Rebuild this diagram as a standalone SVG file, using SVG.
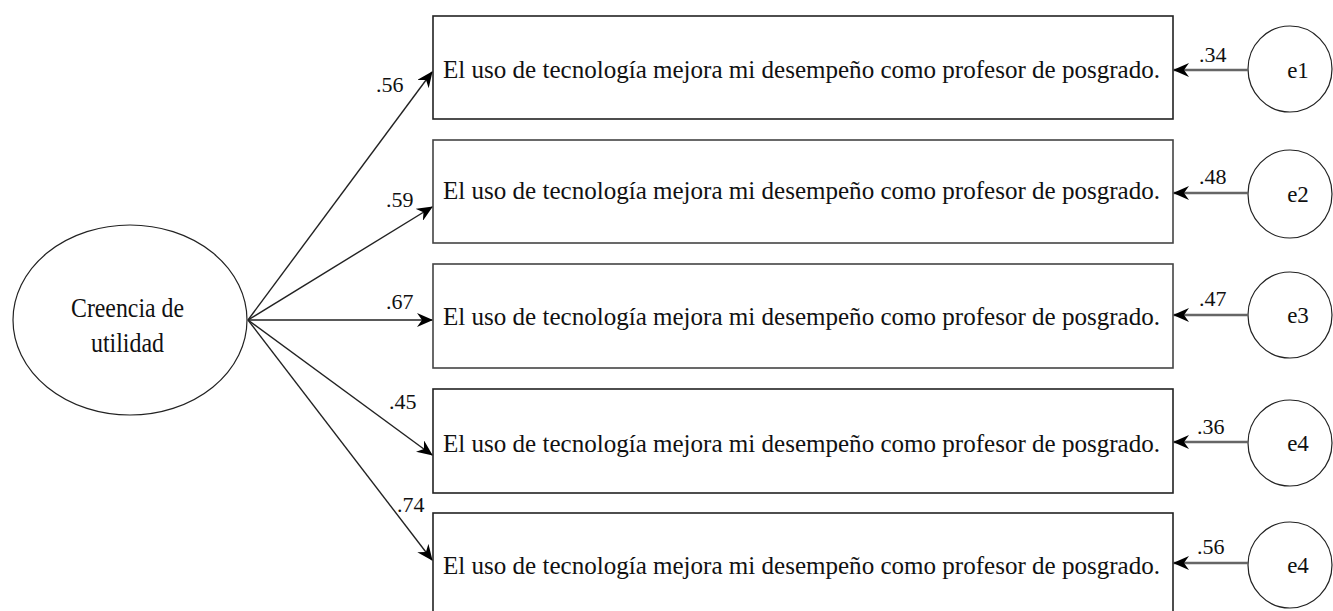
<svg xmlns="http://www.w3.org/2000/svg" width="1333" height="611" viewBox="0 0 1333 611">
<defs>
<style>
.t{font-family:"Liberation Serif","Times New Roman",serif;fill:#111;}
.box{fill:#fff;stroke:#444;stroke-width:1.6;}
.ell{fill:#fff;stroke:#222;stroke-width:1.2;}
.load{stroke:#222;stroke-width:1.4;fill:none;marker-end:url(#ah);}
.err{stroke:#666;stroke-width:2.4;fill:none;marker-end:url(#ah);}
.bt{font-size:25px;}
.lb{font-size:22px;}
.el{font-size:23px;text-anchor:middle;}
</style>
<marker id="ah" viewBox="0 0 16 14" markerWidth="16" markerHeight="14" refX="15" refY="7" orient="auto" markerUnits="userSpaceOnUse">
<path d="M0,0 L16,7 L0,14 L5,7 Z" fill="#000"/>
</marker>
</defs>

<g id="latent">
<ellipse class="ell" cx="130" cy="320" rx="117" ry="95"/>
<text class="t" x="71" y="317" font-size="28" textLength="113" lengthAdjust="spacingAndGlyphs">Creencia de</text>
<text class="t" x="91" y="352" font-size="28" textLength="73" lengthAdjust="spacingAndGlyphs">utilidad</text>
</g>

<g id="item1">
<rect class="box" x="433" y="16" width="740" height="103" style="stroke:#222"/>
<text class="t bt" x="443" y="78" textLength="717" lengthAdjust="spacingAndGlyphs">El uso de tecnología mejora mi desempeño como profesor de posgrado.</text>
</g>
<g id="item2">
<rect class="box" x="433" y="140" width="740" height="103"/>
<text class="t bt" x="443" y="199" textLength="717" lengthAdjust="spacingAndGlyphs">El uso de tecnología mejora mi desempeño como profesor de posgrado.</text>
</g>
<g id="item3">
<rect class="box" x="433" y="264" width="740" height="104"/>
<text class="t bt" x="443" y="325" textLength="717" lengthAdjust="spacingAndGlyphs">El uso de tecnología mejora mi desempeño como profesor de posgrado.</text>
</g>
<g id="item4">
<rect class="box" x="433" y="389" width="740" height="104" style="stroke:#222"/>
<text class="t bt" x="443" y="452" textLength="717" lengthAdjust="spacingAndGlyphs">El uso de tecnología mejora mi desempeño como profesor de posgrado.</text>
</g>
<g id="item5">
<rect class="box" x="433" y="513" width="740" height="120" style="stroke:#222"/>
<text class="t bt" x="443" y="574" textLength="717" lengthAdjust="spacingAndGlyphs">El uso de tecnología mejora mi desempeño como profesor de posgrado.</text>
</g>

<g id="e1"><ellipse class="ell" cx="1290" cy="69" rx="42" ry="43"/><text class="t el" x="1298" y="78">e1</text></g>
<g id="e2"><ellipse class="ell" cx="1290" cy="194" rx="42" ry="44"/><text class="t el" x="1298" y="202">e2</text></g>
<g id="e3"><ellipse class="ell" cx="1290" cy="315" rx="42" ry="43"/><text class="t el" x="1298" y="323">e3</text></g>
<g id="e4"><ellipse class="ell" cx="1290" cy="443" rx="42" ry="43"/><text class="t el" x="1298" y="451">e4</text></g>
<g id="e5"><ellipse class="ell" cx="1290" cy="565" rx="42" ry="43"/><text class="t el" x="1298" y="573">e4</text></g>

<g id="connectors">
<line class="load" x1="248" y1="320" x2="432" y2="72"/>
<line class="load" x1="248" y1="320" x2="432" y2="207"/>
<line class="load" x1="248" y1="320" x2="432" y2="320"/>
<line class="load" x1="248" y1="320" x2="432" y2="455"/>
<line class="load" x1="248" y1="320" x2="432" y2="560"/>
<line class="err" x1="1248" y1="70" x2="1174" y2="70"/>
<line class="err" x1="1248" y1="193" x2="1174" y2="193"/>
<line class="err" x1="1248" y1="315" x2="1174" y2="315"/>
<line class="err" x1="1248" y1="442" x2="1174" y2="442"/>
<line class="err" x1="1248" y1="563" x2="1174" y2="563"/>
</g>

<g id="labels">
<text class="t lb" x="376" y="92">.56</text>
<text class="t lb" x="386" y="207">.59</text>
<text class="t lb" x="386" y="309">.67</text>
<text class="t lb" x="389" y="409">.45</text>
<text class="t lb" x="397" y="512">.74</text>
<text class="t lb" x="1199" y="62">.34</text>
<text class="t lb" x="1199" y="184">.48</text>
<text class="t lb" x="1199" y="306">.47</text>
<text class="t lb" x="1197" y="434">.36</text>
<text class="t lb" x="1197" y="554">.56</text>
</g>
</svg>
